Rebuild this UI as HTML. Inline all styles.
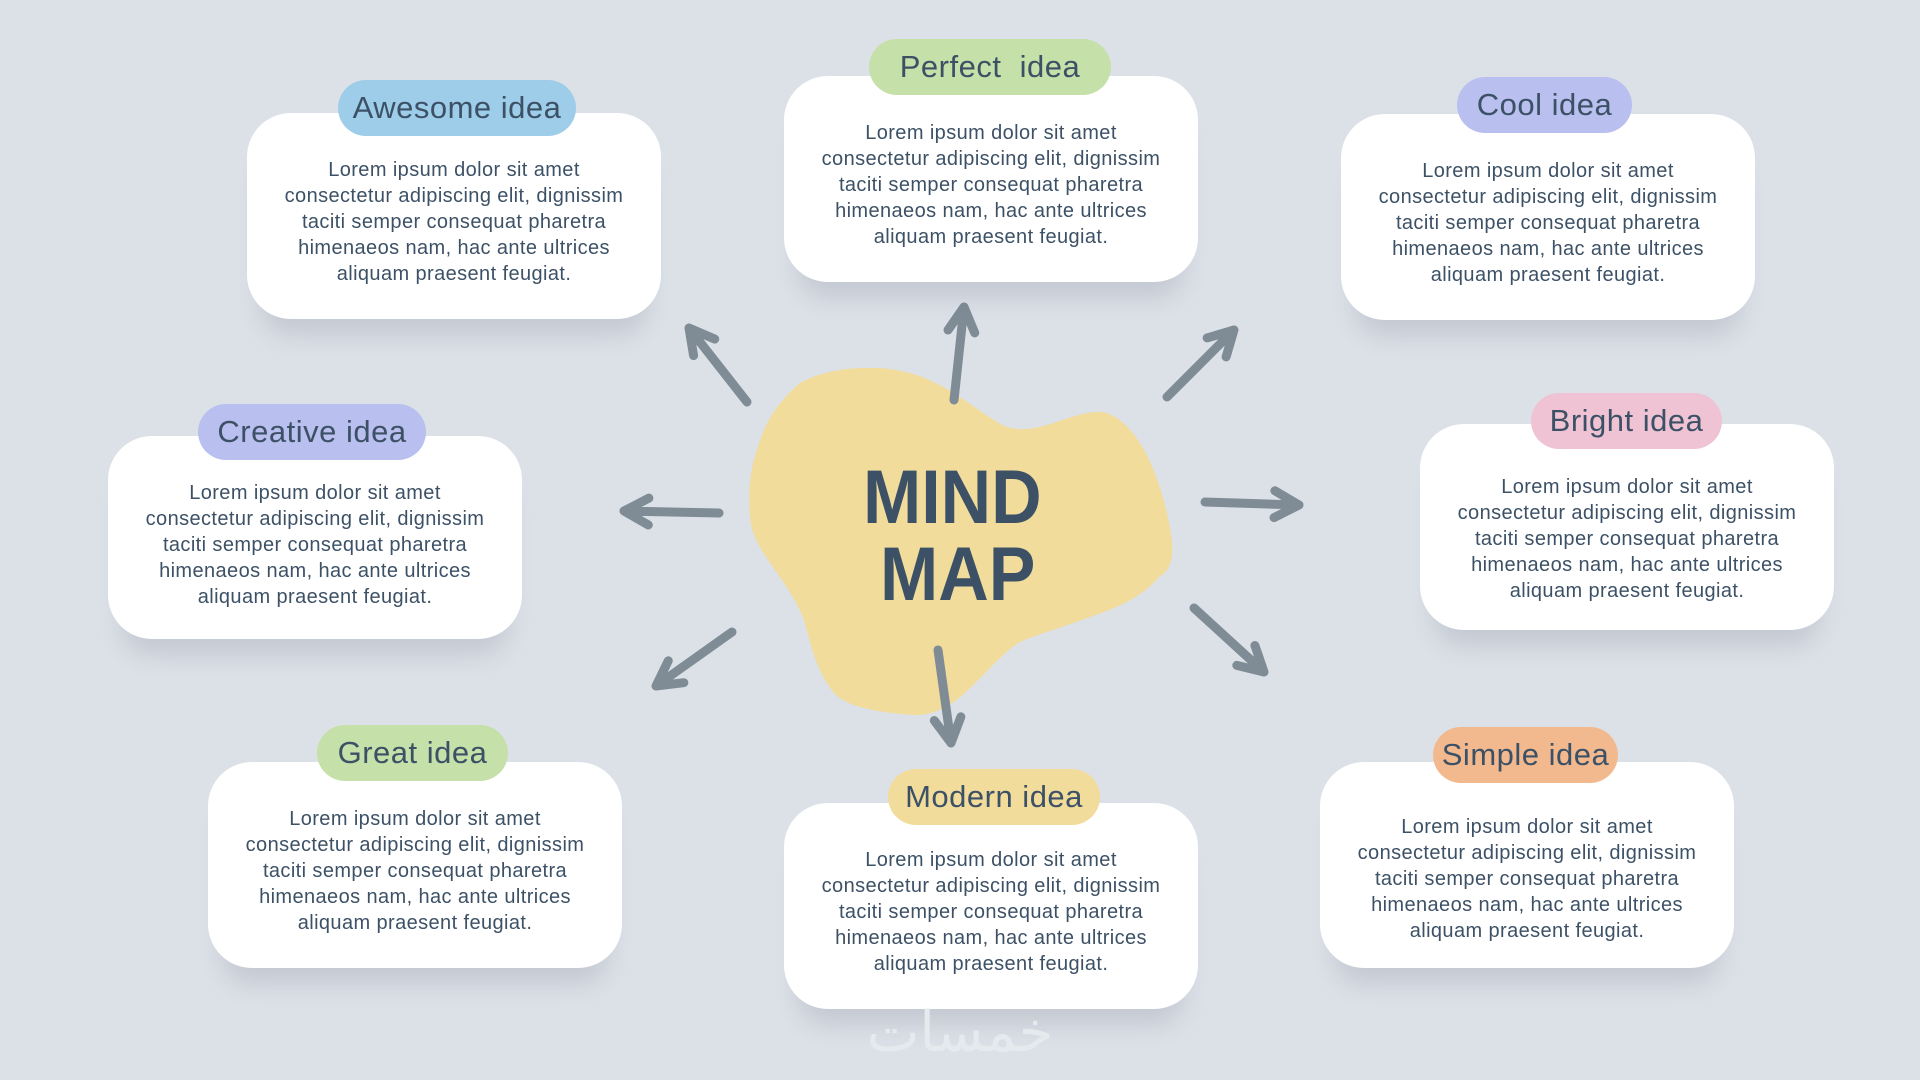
<!DOCTYPE html>
<html><head><meta charset="utf-8"><style>
html,body{margin:0;padding:0}
body{width:1920px;height:1080px;background:#dce1e8;position:relative;overflow:hidden;font-family:"Liberation Sans",sans-serif;color:#3d5166}
.card{position:absolute;width:414px;height:206px;background:#fff;border-radius:44px;box-shadow:0 30px 24px -14px rgba(60,70,85,0.15);}
.card p{position:absolute;left:0;right:0;top:44px;margin:0;text-align:center;font-size:20px;line-height:26px;letter-spacing:0.4px}
.pill{position:absolute;height:56px;border-radius:28px;font-size:31px;line-height:56px;text-align:center;letter-spacing:0.5px}
.mm{position:absolute;font-weight:bold;font-size:76px;line-height:76px;color:#3d5166;transform:scaleX(0.92);transform-origin:left top}
</style></head><body>
<svg width="1920" height="1080" style="position:absolute;left:0;top:0">
<path d="M865,368 C930,366 960,400 1002,425 C1035,440 1070,410 1102,412 C1135,418 1160,470 1171,533 C1175,560 1170,570 1159,577 C1140,600 1110,610 1090,617 C1055,630 1035,635 1018,643 C995,660 985,675 968,690 C950,708 930,716 914,715 C870,712 845,705 834,693 C815,670 810,640 803,617 C785,575 752,550 750,517 C748,490 750,470 757,450 C765,420 780,400 800,383 C820,372 845,368 865,368 Z" fill="#f1dc9c"/>
<g stroke="#7f8c96" stroke-width="9" stroke-linecap="round" stroke-linejoin="round" fill="none" id="arrows"></g>
</svg>
<div class="mm" style="left:863px;top:460px">MIND</div>
<div class="mm" style="left:880px;top:537px">MAP</div>

<div class="card" style="left:247px;top:113px"><p>Lorem ipsum dolor sit amet<br>consectetur adipiscing elit, dignissim<br>taciti semper consequat pharetra<br>himenaeos nam, hac ante ultrices<br>aliquam praesent feugiat.</p></div>
<div class="pill" style="left:338px;top:80px;width:238px;background:#9ecde9">Awesome idea</div>

<div class="card" style="left:784px;top:76px"><p>Lorem ipsum dolor sit amet<br>consectetur adipiscing elit, dignissim<br>taciti semper consequat pharetra<br>himenaeos nam, hac ante ultrices<br>aliquam praesent feugiat.</p></div>
<div class="pill" style="left:869px;top:39px;width:242px;background:#c5e0a8">Perfect&nbsp; idea</div>

<div class="card" style="left:1341px;top:114px"><p>Lorem ipsum dolor sit amet<br>consectetur adipiscing elit, dignissim<br>taciti semper consequat pharetra<br>himenaeos nam, hac ante ultrices<br>aliquam praesent feugiat.</p></div>
<div class="pill" style="left:1457px;top:77px;width:175px;background:#b9bfee">Cool idea</div>

<div class="card" style="left:108px;top:436px;height:203px"><p>Lorem ipsum dolor sit amet<br>consectetur adipiscing elit, dignissim<br>taciti semper consequat pharetra<br>himenaeos nam, hac ante ultrices<br>aliquam praesent feugiat.</p></div>
<div class="pill" style="left:198px;top:404px;width:228px;background:#b9bfee">Creative idea</div>

<div class="card" style="left:1420px;top:424px"><p style="top:50px">Lorem ipsum dolor sit amet<br>consectetur adipiscing elit, dignissim<br>taciti semper consequat pharetra<br>himenaeos nam, hac ante ultrices<br>aliquam praesent feugiat.</p></div>
<div class="pill" style="left:1531px;top:393px;width:191px;background:#efc3d3">Bright idea</div>

<div class="card" style="left:208px;top:762px"><p>Lorem ipsum dolor sit amet<br>consectetur adipiscing elit, dignissim<br>taciti semper consequat pharetra<br>himenaeos nam, hac ante ultrices<br>aliquam praesent feugiat.</p></div>
<div class="pill" style="left:317px;top:725px;width:191px;background:#c5e0a8">Great idea</div>

<div class="card" style="left:784px;top:803px"><p>Lorem ipsum dolor sit amet<br>consectetur adipiscing elit, dignissim<br>taciti semper consequat pharetra<br>himenaeos nam, hac ante ultrices<br>aliquam praesent feugiat.</p></div>
<div class="pill" style="left:888px;top:769px;width:212px;background:#f2dc9b">Modern idea</div>

<div class="card" style="left:1320px;top:762px"><p style="top:52px">Lorem ipsum dolor sit amet<br>consectetur adipiscing elit, dignissim<br>taciti semper consequat pharetra<br>himenaeos nam, hac ante ultrices<br>aliquam praesent feugiat.</p></div>
<div class="pill" style="left:1433px;top:727px;width:185px;background:#f2b98f">Simple idea</div>

<div style="position:absolute;left:840px;top:1000px;width:240px;text-align:center;font-size:56px;color:#e6eaef;font-family:'DejaVu Sans',sans-serif">خمسات</div>

<script>
var A=[[954,400,964,307],[1167,397,1234,330],[1205,502,1299,505],[1194,608,1264,672],[938,650,951,743],[732,632,656,686],[719,513,624,511],[747,402,689,328]];
var g=document.getElementById('arrows'),s='';
A.forEach(function(a){var dx=a[2]-a[0],dy=a[3]-a[1],L=Math.hypot(dx,dy),ux=dx/L,uy=dy/L,h=28,w=0.5;
var c=Math.cos(w),sn=Math.sin(w);
var l1x=a[2]-h*(ux*c-uy*sn),l1y=a[3]-h*(uy*c+ux*sn),l2x=a[2]-h*(ux*c+uy*sn),l2y=a[3]-h*(uy*c-ux*sn);
s+='<path d="M'+a[0]+','+a[1]+' L'+a[2]+','+a[3]+' M'+l1x+','+l1y+' L'+a[2]+','+a[3]+' L'+l2x+','+l2y+'"/>';});
g.innerHTML=s;
</script>
</body></html>
